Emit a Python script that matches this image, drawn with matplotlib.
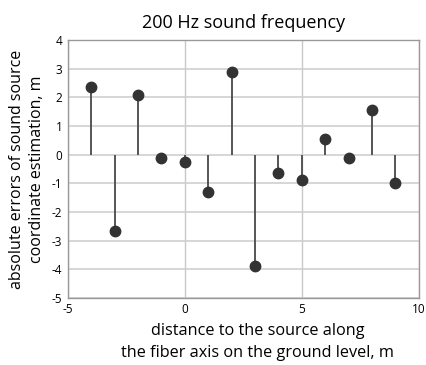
import matplotlib
matplotlib.use("Agg")
import matplotlib.pyplot as plt

# positions along the fiber axis and estimation errors, m
positions = [-4, -3, -2, -1, 0, 1, 2, 3, 4, 5, 6, 7, 8, 9]
errors = [2.35, -2.65, 2.1, -0.1, -0.25, -1.3, 2.9, -3.9, -0.65, -0.9, 0.55, -0.1, 1.55, -1.0]

x_ticks = [-5, 0, 5, 10]
y_ticks = [-5, -4, -3, -2, -1, 0, 1, 2, 3, 4]

plt.rcParams["font.family"] = ["Open Sans", "DejaVu Sans"]
plt.rcParams["axes.unicode_minus"] = False

fig = plt.figure(figsize=(4.27, 3.65), dpi=100)
ax = fig.add_axes([0.159, 0.184, 0.822, 0.706])

markerline, stemlines, baseline = ax.stem(positions, errors, basefmt=" ")
plt.setp(stemlines, color="#555555", linewidth=1.4)
plt.setp(markerline, color="#333333", markersize=7.5)

ax.set_xlim(-5, 10)
ax.set_ylim(-5, 4)
ax.set_xticks(x_ticks)
ax.set_yticks(y_ticks)
ax.tick_params(length=0, labelsize=8.5, pad=4)

ax.set_axisbelow(True)
ax.grid(axis="y", color="#cfcfcf", linewidth=1.2)
ax.grid(axis="x", color="#c8c8c8", linewidth=1.0)
for spine in ax.spines.values():
    spine.set_color("#999999")
    spine.set_linewidth(1.0)

ax.set_title("200 Hz sound frequency", fontsize=13, pad=9)
ax.set_xlabel("distance to the source along\nthe fiber axis on the ground level, m",
              fontsize=11.7, linespacing=1.5)
ax.xaxis.set_label_coords(0.54, -0.097, transform=ax.transAxes)
ax.xaxis.label.set_va("top")
ax.set_ylabel("absolute errors of sound source\ncoordinate estimation, m",
              fontsize=11.5, labelpad=5, linespacing=1.35)

fig.savefig("out.png", dpi=100)
